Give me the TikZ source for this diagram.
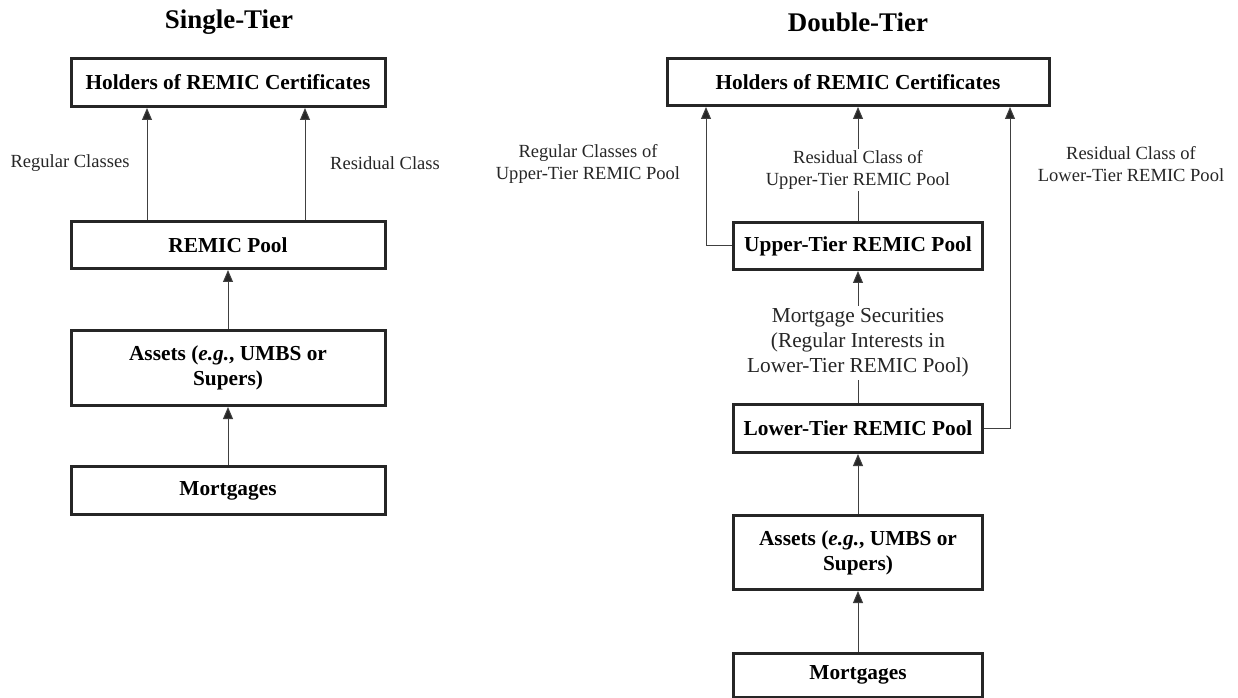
\documentclass[tikz,border=0pt]{standalone}
\usepackage{fontspec}
\setmainfont{Liberation Serif}
\usetikzlibrary{arrows.meta}
\begin{document}
\begin{tikzpicture}[x=0.75pt,y=-0.75pt,
  box/.style={draw=black!85,line width=2.25pt,inner sep=0pt,align=center,
    font=\fontsize{16}{18.75}\selectfont\bfseries},
  lbl/.style={inner sep=1pt,align=center,font=\fontsize{13.9}{16.5}\selectfont,text=black!85},
  ttl/.style={inner sep=0pt,font=\fontsize{20.2}{24}\selectfont\bfseries},
  arr/.style={draw=black!75,line width=0.75pt,-{Triangle[length=9pt,width=7.5pt,fill=black!85]}},
  ln/.style={draw=black!75,line width=0.75pt}]
\useasboundingbox (0,0) rectangle (1238,698);
% ---------- Single-Tier ----------
\node[ttl] (t1) at (229,22) {Single-Tier};
\node[box,minimum width=235.5pt,minimum height=36pt] (h1) at (228,82.5) {Holders of REMIC Certificates};
\node[box,minimum width=235.5pt,minimum height=35.25pt] (p1) at (228,245) {REMIC Pool};
\node[box,minimum width=235.5pt,minimum height=56.25pt] (a1) at (228,368) {Assets (\textit{e.g.}, UMBS or\\Supers)};
\node[box,minimum width=235.5pt,minimum height=36pt] (m1) at (228,490.5) {Mortgages};
\coordinate (xl) at (147,0);
\coordinate (xr) at (305,0);
\path (p1.north -| xl) coordinate (s1) (h1.south -| xl) coordinate (e1);
\path (p1.north -| xr) coordinate (s2) (h1.south -| xr) coordinate (e2);
\draw[arr] (s1) -- (e1);
\draw[arr] (s2) -- (e2);
\draw[arr] (a1.north) -- (p1.south);
\draw[arr] (m1.north) -- (a1.south);
\node[lbl] (l1) at (70,163) {Regular Classes};
\node[lbl] (l2) at (385,163) {Residual Class};
% ---------- Double-Tier ----------
\node[ttl] (t2) at (858,22) {Double-Tier};
\node[box,minimum width=286.5pt,minimum height=35.25pt] (h2) at (858,82) {Holders of REMIC Certificates};
\node[box,minimum width=186.75pt,minimum height=35.25pt] (u2) at (858,246) {Upper-Tier REMIC Pool};
\node[box,minimum width=186.75pt,minimum height=36pt] (w2) at (858,428.5) {Lower-Tier REMIC Pool};
\node[box,minimum width=186.75pt,minimum height=55.5pt] (a2) at (858,552.5) {Assets (\textit{e.g.}, UMBS or\\Supers)};
\node[box,minimum width=186.75pt,minimum height=33pt] (m2) at (858,675) {Mortgages};
\coordinate (xa) at (706,0);
\coordinate (xb) at (1010,0);
\path (h2.south -| xa) coordinate (ta) (h2.south -| xb) coordinate (tb);
\draw[arr] (u2.west) -| (ta);
\draw[arr] (w2.east) -| (tb);
\draw[arr] (u2.north) -- (h2.south);
\draw[arr] (w2.north) -- (u2.south);
\draw[arr] (a2.north) -- (w2.south);
\draw[arr] (m2.north) -- (a2.south);
\node[lbl] (l3) at (588,164) {Regular Classes of\\Upper-Tier REMIC Pool};
\node[lbl,fill=white] (l4) at (858,170) {Residual Class of\\Upper-Tier REMIC Pool};
\node[lbl] (l5) at (1131,164) {Residual Class of\\Lower-Tier REMIC Pool};
\node[lbl,fill=white,font=\fontsize{16}{18.75}\selectfont,inner sep=2pt] (l6) at (858,343) {Mortgage Securities\\(Regular Interests in\\Lower-Tier REMIC Pool)};
\end{tikzpicture}
\end{document}
